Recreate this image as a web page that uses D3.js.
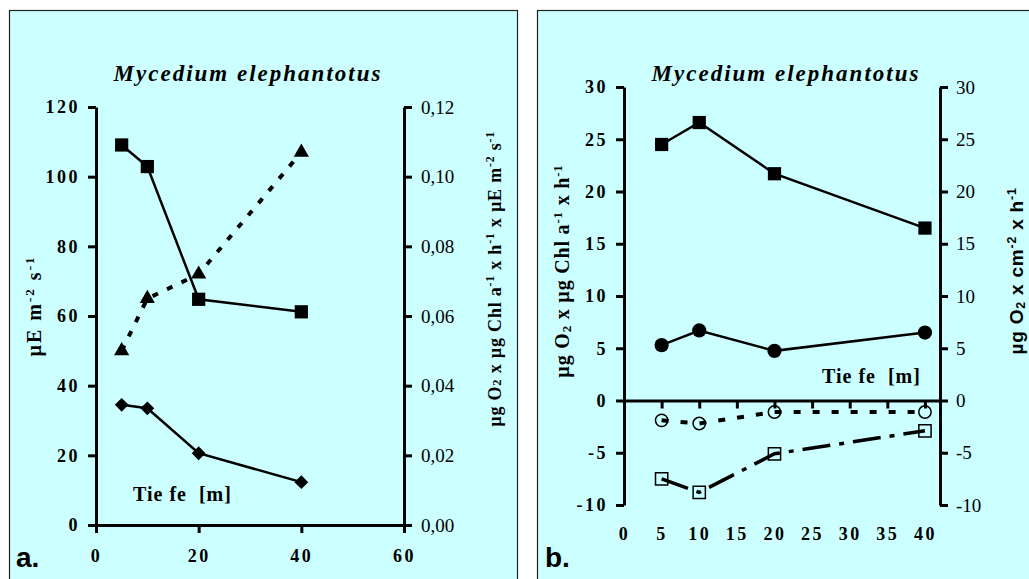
<!DOCTYPE html>
<html>
<head>
<meta charset="utf-8">
<style>
  body { margin: 0; background: #fff; }
</style>
</head>
<body>
<svg id="chart" width="1029" height="579"></svg>
<script src="https://d3js.org/d3.v7.min.js"></script>
<script>
  // Panel a: light values (left axis) and alpha (right axis) by depth
  const depthA = [5, 10, 20, 40];
  const squaresA = [109.1, 102.9, 64.8, 61.2];
  const diamondsA = [34.5, 33.5, 20.6, 12.3];
  const trianglesA = [0.050, 0.065, 0.072, 0.107];
  const xTicksA = [0, 20, 40, 60];
  const yTicksA = [0, 20, 40, 60, 80, 100, 120];
  const y2TicksA = [0, 0.02, 0.04, 0.06, 0.08, 0.10, 0.12];

  // Panel b: production / respiration by depth
  const depthB = [5, 10, 20, 40];
  const squaresB = [24.5, 26.6, 21.7, 16.5];
  const circlesB = [5.3, 6.7, 4.75, 6.5];
  const openCirclesB = [-1.9, -2.2, -1.1, -1.1];
  const openSquaresB = [-7.5, -8.8, -5.1, -2.9];
  const xTicksB = [0, 5, 10, 15, 20, 25, 30, 35, 40];
  const yTicksB = [-10, -5, 0, 5, 10, 15, 20, 25, 30];

  const title = 'Mycedium elephantotus';
  const serif = "'Liberation Serif', 'Times New Roman', serif";
  const sans = "'Liberation Sans', Arial, sans-serif";
  const bg = '#ccffff';

  const de = d3.formatLocale({ decimal: ',', thousands: '.', grouping: [3], currency: ['', ''], minus: '-' });
  const fmtComma = de.format('.2f');
  const fmtInt = de.format('d');

  const svg = d3.select('#chart');

  // panel backgrounds
  svg.append('rect').attr('x', 9.5).attr('y', 10.5).attr('width', 508).attr('height', 600)
    .attr('fill', bg).attr('stroke', '#222').attr('stroke-width', 1.2);
  svg.append('rect').attr('x', 537.5).attr('y', 10.5).attr('width', 520).attr('height', 600)
    .attr('fill', bg).attr('stroke', '#222').attr('stroke-width', 1.2);

  function styleAxis(g, size, weight, spacing) {
    g.attr('font-family', null).attr('font-size', null);
    g.select('.domain').attr('stroke-width', 3);
    g.selectAll('.tick line').attr('stroke-width', 3);
    g.selectAll('text')
      .attr('font-family', serif)
      .attr('font-size', size)
      .attr('font-weight', weight)
      .attr('letter-spacing', spacing);
  }

  // ---------- panel a ----------
  const xA = d3.scaleLinear().domain([0, 60]).range([96, 404]);
  const yA = d3.scaleLinear().domain([0, 120]).range([525, 107]);
  const yA2 = d3.scaleLinear().domain([0, 0.12]).range([525, 107]);

  svg.append('g').attr('transform', 'translate(0,525)')
    .call(d3.axisBottom(xA).tickValues(xTicksA).tickSize(8).tickSizeOuter(0).tickPadding(16).tickFormat(fmtInt))
    .call(g => styleAxis(g, 18, 'bold', 2.5));
  svg.append('g').attr('transform', 'translate(96,0)')
    .call(d3.axisLeft(yA).tickValues(yTicksA).tickSize(8).tickSizeOuter(0).tickPadding(8).tickFormat(fmtInt))
    .call(g => styleAxis(g, 18, 'bold', 2.5));
  svg.append('g').attr('transform', 'translate(404,0)')
    .call(d3.axisRight(yA2).tickValues(y2TicksA).tickSize(8).tickSizeOuter(0).tickPadding(9).tickFormat(fmtComma))
    .call(g => styleAxis(g, 19, 'normal', 0));

  const lineA = d3.line().x((d, i) => xA(depthA[i])).y(d => yA(d));
  const lineA2 = d3.line().x((d, i) => xA(depthA[i])).y(d => yA2(d));

  svg.append('path').datum(squaresA).attr('d', lineA)
    .attr('fill', 'none').attr('stroke', '#000').attr('stroke-width', 2.5);
  svg.append('path').datum(diamondsA).attr('d', lineA)
    .attr('fill', 'none').attr('stroke', '#000').attr('stroke-width', 2.5);
  svg.append('path').datum(trianglesA).attr('d', lineA2)
    .attr('fill', 'none').attr('stroke', '#000').attr('stroke-width', 4)
    .attr('stroke-dasharray', '6,10');

  svg.selectAll('.sqA').data(squaresA).enter().append('path')
    .attr('d', d3.symbol(d3.symbolSquare).size(175))
    .attr('transform', (d, i) => `translate(${xA(depthA[i])},${yA(d)})`)
    .attr('fill', '#000');
  svg.selectAll('.diA').data(diamondsA).enter().append('path')
    .attr('d', d3.symbol(d3.symbolSquare).size(95))
    .attr('transform', (d, i) => `translate(${xA(depthA[i])},${yA(d)}) rotate(45)`)
    .attr('fill', '#000');
  svg.selectAll('.trA').data(trianglesA).enter().append('path')
    .attr('d', d3.symbol(d3.symbolTriangle).size(100))
    .attr('transform', (d, i) => `translate(${xA(depthA[i])},${yA2(d)})`)
    .attr('fill', '#000');

  // ---------- panel b ----------
  const xB = d3.scaleLinear().domain([0, 42]).range([624, 940]);
  const yB = d3.scaleLinear().domain([-10, 30]).range([505, 87]);

  svg.append('g').attr('transform', `translate(0,${yB(0)})`)
    .call(d3.axisBottom(xB).tickValues(xTicksB).tickSize(8).tickSizeOuter(0).tickPadding(119).tickFormat(fmtInt))
    .call(g => styleAxis(g, 18, 'bold', 2.5));
  svg.append('g').attr('transform', 'translate(624,0)')
    .call(d3.axisLeft(yB).tickValues(yTicksB).tickSize(8).tickSizeOuter(0).tickPadding(8).tickFormat(fmtInt))
    .call(g => styleAxis(g, 18, 'bold', 2.5));
  svg.append('g').attr('transform', 'translate(940,0)')
    .call(d3.axisRight(yB).tickValues(yTicksB).tickSize(8).tickSizeOuter(0).tickPadding(8).tickFormat(fmtInt))
    .call(g => styleAxis(g, 19, 'normal', 0));

  const lineB = d3.line().x((d, i) => xB(depthB[i])).y(d => yB(d));

  svg.append('path').datum(squaresB).attr('d', lineB)
    .attr('fill', 'none').attr('stroke', '#000').attr('stroke-width', 2.5);
  svg.append('path').datum(circlesB).attr('d', lineB)
    .attr('fill', 'none').attr('stroke', '#000').attr('stroke-width', 2.5);
  svg.append('path').datum(openCirclesB).attr('d', lineB)
    .attr('fill', 'none').attr('stroke', '#000').attr('stroke-width', 4)
    .attr('stroke-dasharray', '7,12');
  svg.append('path').datum(openSquaresB).attr('d', lineB)
    .attr('fill', 'none').attr('stroke', '#000').attr('stroke-width', 3.5)
    .attr('stroke-dasharray', '28,9,5,9');

  svg.selectAll('.sqB').data(squaresB).enter().append('path')
    .attr('d', d3.symbol(d3.symbolSquare).size(175))
    .attr('transform', (d, i) => `translate(${xB(depthB[i])},${yB(d)})`)
    .attr('fill', '#000');
  svg.selectAll('.ciB').data(circlesB).enter().append('path')
    .attr('d', d3.symbol(d3.symbolCircle).size(160))
    .attr('transform', (d, i) => `translate(${xB(depthB[i])},${yB(d)})`)
    .attr('fill', '#000');
  svg.selectAll('.ocB').data(openCirclesB).enter().append('path')
    .attr('d', d3.symbol(d3.symbolCircle).size(120))
    .attr('transform', (d, i) => `translate(${xB(depthB[i])},${yB(d)})`)
    .attr('fill', 'none').attr('stroke', '#000').attr('stroke-width', 1.5);
  svg.selectAll('.osB').data(openSquaresB).enter().append('path')
    .attr('d', d3.symbol(d3.symbolSquare).size(150))
    .attr('transform', (d, i) => `translate(${xB(depthB[i])},${yB(d)})`)
    .attr('fill', 'none').attr('stroke', '#000').attr('stroke-width', 1.5);

  // ---------- texts ----------
  [248, 786].forEach(cx => {
    svg.append('text').attr('x', cx).attr('y', 81)
      .attr('text-anchor', 'middle').attr('font-family', serif)
      .attr('font-size', 23).attr('font-weight', 'bold').attr('font-style', 'italic')
      .attr('letter-spacing', 2).text(title);
  });

  function depthLabel(x, y) {
    svg.append('text').attr('x', x).attr('y', y)
      .attr('font-family', serif).attr('font-size', 20).attr('font-weight', 'bold')
      .attr('letter-spacing', 1).attr('xml:space', 'preserve').text('Tie fe  [m]');
  }
  depthLabel(133, 501);
  depthLabel(822, 383);

  svg.append('text').attr('x', 16).attr('y', 567)
    .attr('font-family', sans).attr('font-size', 28).attr('font-weight', 'bold').text('a.');
  svg.append('text').attr('x', 545).attr('y', 567)
    .attr('font-family', sans).attr('font-size', 28).attr('font-weight', 'bold').text('b.');

  // rotated label built from [text, mode] parts: mode '' normal, 'sup', 'sub', 'small'
  function rotLabel(x, y, parts, font, size, spacing) {
    const t = svg.append('text')
      .attr('transform', `translate(${x},${y}) rotate(-90)`)
      .attr('text-anchor', 'middle').attr('font-family', font)
      .attr('font-size', size).attr('font-weight', 'bold')
      .attr('letter-spacing', spacing).attr('xml:space', 'preserve');
    parts.forEach(([s, mode]) => {
      const ts = t.append('tspan').text(s);
      if (mode === 'sup') ts.attr('font-size', size * 0.65).attr('baseline-shift', '55%');
      if (mode === 'sub') ts.attr('font-size', size * 0.65).attr('baseline-shift', '-15%');
      if (mode === 'small') ts.attr('font-size', size * 0.7);
    });
  }

  rotLabel(41, 306, [['µE m', ''], ['-2', 'sup'], [' s', ''], ['-1', 'sup']], serif, 20, 2);
  rotLabel(501, 279, [['µg O', ''], ['2', 'small'], [' x µg Chl a', ''], ['-1', 'sup'],
    [' x h', ''], ['-1', 'sup'], [' x µE m', ''], ['-2', 'sup'], [' s', ''], ['-1', 'sup']], serif, 18, 0.8);
  rotLabel(569, 271, [['µg O', ''], ['2', 'sub'], [' x µg Chl a', ''], ['-1', 'sup'],
    [' x h', ''], ['-1', 'sup']], serif, 20, 0.8);
  rotLabel(1023, 271, [['µg O', ''], ['2', 'sub'], [' x cm', ''], ['-2', 'sup'],
    [' x h', ''], ['-1', 'sup']], sans, 19, 0.8);
</script>
</body>
</html>
